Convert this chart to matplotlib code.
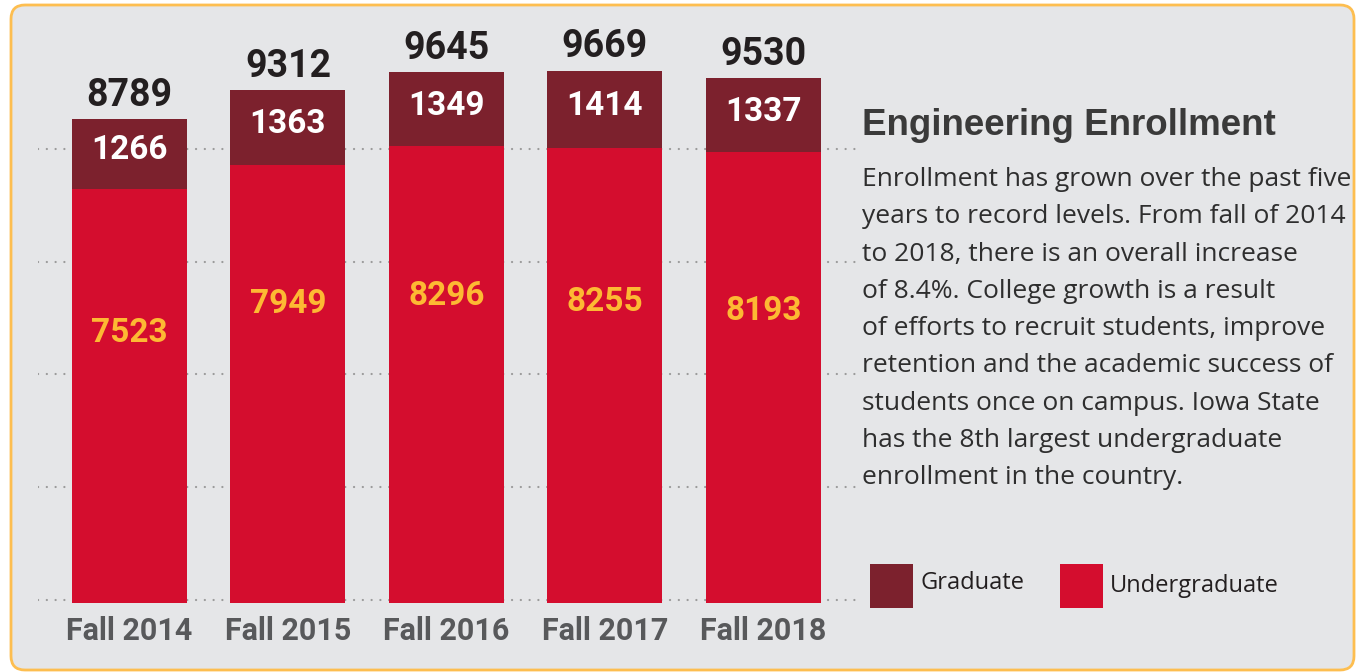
import matplotlib
matplotlib.use('Agg')
import matplotlib.pyplot as plt
from matplotlib.patches import FancyBboxPatch, Rectangle
from matplotlib.transforms import IdentityTransform

# ---------- data ----------
years = ['Fall 2014', 'Fall 2015', 'Fall 2016', 'Fall 2017', 'Fall 2018']
undergrad = [7523, 7949, 8296, 8255, 8193]
graduate = [1266, 1363, 1349, 1414, 1337]
totals = [8789, 9312, 9645, 9669, 9530]

# decorative dotted guide lines (data units) and undergrad label heights
GRID_LEVELS = [50, 2100, 4150, 6200, 8250]
UG_LABEL_FRAC = [0.66, 0.69, 0.68, 0.67, 0.655]

# ---------- style ----------
W, H, DPI = 1356, 672, 100
C_UG = '#D40D2E'
C_GRAD = '#7C212D'
C_BG = '#E5E6E8'
C_BORDER = '#FDBE50'
C_YELLOW = '#FDB933'
C_DARK = '#231F20'
C_TICK = '#58595B'
C_BODY = '#2E2E2E'
PX_PER_UNIT = 0.05507
FONT = ['Roboto', 'DejaVu Sans']
BODY_FONT = ['Open Sans', 'DejaVu Sans']
TITLE_FONT = ['Liberation Sans', 'DejaVu Sans']

plt.rcParams['font.family'] = FONT


def fx(x):
    return x / W


def fy(y):
    return 1 - y / H


fig = plt.figure(figsize=(W / DPI, H / DPI), dpi=DPI, facecolor='white')

# rounded panel
panel = FancyBboxPatch((11, 2), 1343, 665, boxstyle='round,pad=0,rounding_size=14',
                       facecolor=C_BG, edgecolor=C_BORDER, linewidth=2.0,
                       transform=IdentityTransform(), zorder=0)
fig.add_artist(panel)

# bar axes: x from px 38 to 860, y=0 at px 603
left_px, right_px, base_px = 38, 860, 603
ax = fig.add_axes([fx(left_px), fy(base_px), fx(right_px - left_px), base_px / H])
ax.set_facecolor('none')
ax.set_xlim(-0.577, 4.609)
ax.set_ylim(0, base_px / PX_PER_UNIT)
for s in ax.spines.values():
    s.set_visible(False)

for lvl in GRID_LEVELS:
    ax.axhline(lvl, color='#9A9A9A', linewidth=1.6, linestyle=(0, (0.05, 3.9)),
               dash_capstyle='round', zorder=1)

xs = list(range(len(years)))
bw = 0.7256
ax.bar(xs, undergrad, width=bw, color=C_UG, zorder=2)
ax.bar(xs, graduate, width=bw, bottom=undergrad, color=C_GRAD, zorder=2)

for i in xs:
    ax.annotate(str(totals[i]), (i, undergrad[i] + graduate[i]), xytext=(0, 9.5),
                textcoords='offset points', ha='center', va='baseline',
                fontsize=27, fontweight='bold', color=C_DARK, zorder=3)
    ax.annotate(str(graduate[i]), (i, undergrad[i] + graduate[i] / 2), xytext=(0, -4),
                textcoords='offset points', ha='center', va='baseline',
                fontsize=24, fontweight='bold', color='white', zorder=3)
    ax.annotate(str(undergrad[i]), (i, undergrad[i] * UG_LABEL_FRAC[i]), xytext=(0, -9),
                textcoords='offset points', ha='center', va='baseline',
                fontsize=24, fontweight='bold', color=C_YELLOW, zorder=3)

ax.set_xticks(xs)
ax.set_xticklabels(years, fontsize=22, fontweight='bold', color=C_TICK)
ax.tick_params(axis='x', length=0, pad=9)
ax.set_yticks([])

# right-hand text panel
fig.text(fx(862), fy(135), 'Engineering Enrollment', fontsize=26.5, fontweight='bold',
         family=TITLE_FONT, color='#3A3A3A', ha='left', va='baseline')

body = ['Enrollment has grown over the past five',
        'years to record levels. From fall of 2014',
        'to 2018, there is an overall increase',
        'of 8.4%. College growth is a result',
        'of efforts to recruit students, improve',
        'retention and the academic success of',
        'students once on campus. Iowa State',
        'has the 8th largest undergraduate',
        'enrollment in the country.']
for k, line in enumerate(body):
    fig.text(fx(862), fy(186 + k * 37.3), line, fontsize=19, family=BODY_FONT,
             color=C_BODY, ha='left', va='baseline')

# legend
for x0, label, col, ty in [(870, 'Graduate', C_GRAD, 583), (1060, 'Undergraduate', C_UG, 586)]:
    fig.add_artist(Rectangle((fx(x0), fy(608)), fx(43), 44 / H, facecolor=col,
                             edgecolor='none', transform=fig.transFigure))
    fig.text(fx(x0 + 50), fy(ty), label, fontsize=17, family=BODY_FONT,
             color=C_DARK, ha='left', va='center')

fig.savefig('out.png', dpi=DPI, facecolor='white')
